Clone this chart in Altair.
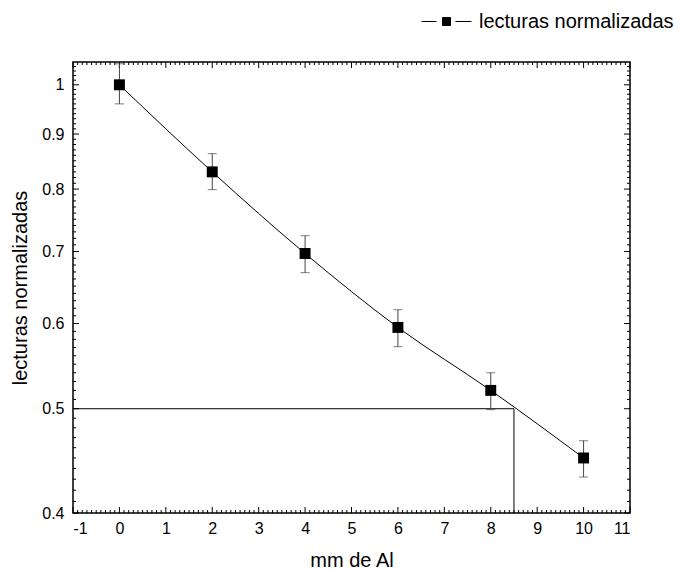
import altair as alt
import numpy as np
import pandas as pd

# ---- data ----
mm = [0, 2, 4, 6, 8, 10]
lectura = [1.0, 0.830, 0.697, 0.595, 0.520, 0.450]
err_hi = [1.046, 0.863, 0.724, 0.618, 0.540, 0.467]
err_lo = [0.960, 0.799, 0.669, 0.571, 0.499, 0.432]
serie = "lecturas normalizadas"

# half-value construction lines
half_y = [0.5]
half_x = [8.5]
x_start = [-1]
y_floor = [0.4]

# axis tick values
x_major = list(range(-1, 12))
y_major = [0.4, 0.5, 0.6, 0.7, 0.8, 0.9, 1.0]
x_minor = [round(v, 1) for v in np.arange(-1, 11.0001, 0.1) if abs(v - round(v)) > 1e-6]
y_minor = [round(v, 2) for v in np.arange(0.41, 1.0401, 0.01) if abs(v * 10 - round(v * 10)) > 1e-6]

W, H = 557, 451
FONT = "Liberation Sans"

df = pd.DataFrame({"mm": mm, "lectura": lectura, "lo": err_lo, "hi": err_hi, "serie": serie})
hline = pd.DataFrame({"x": x_start, "x2": half_x, "y": half_y})
vline = pd.DataFrame({"x": half_x, "y": half_y, "y2": y_floor})

xs = alt.Scale(domain=[-1, 11], nice=False, zero=False)
ys = alt.Scale(type="log", domain=[0.4, 1.05], nice=False)

x_axis = alt.Axis(values=x_major, labelExpr="'' + datum.value", title="mm de Al",
                  labelPadding=7, titlePadding=14, grid=False)
y_axis = alt.Axis(values=y_major, format="~g", title="lecturas normalizadas",
                  labelPadding=9, titlePadding=11, grid=False)


def X(field):
    return alt.X(field, scale=xs, axis=x_axis)


def Y(field):
    return alt.Y(field, scale=ys, axis=y_axis)


sym_path = "M-1,0H-0.4M0.36,0H1M-0.16,-0.16H0.16V0.16H-0.16Z"
leg = alt.Legend(
    title=None, orient="none", legendX=348, legendY=-66, padding=0,
    symbolType=sym_path, symbolSize=2500, symbolStrokeWidth=1,
    symbolFillColor="black", symbolStrokeColor="black",
    labelFont=FONT, labelFontSize=20, labelColor="black", labelOffset=7, labelLimit=400,
)
col_scale = alt.Scale(domain=[serie], range=["black"])

line = alt.Chart(df).mark_line(strokeWidth=1, interpolate="monotone").encode(
    x=X("mm:Q"), y=Y("lectura:Q"),
    stroke=alt.Stroke("serie:N", scale=col_scale, legend=leg),
)

bars = alt.Chart(df).mark_rule(color="#444", strokeWidth=1).encode(
    x=X("mm:Q"), y=Y("lo:Q"), y2="hi:Q",
)
cap_hi = alt.Chart(df).mark_tick(color="#444", orient="horizontal", size=9, thickness=1).encode(
    x=X("mm:Q"), y=Y("hi:Q"),
)
cap_lo = alt.Chart(df).mark_tick(color="#444", orient="horizontal", size=9, thickness=1).encode(
    x=X("mm:Q"), y=Y("lo:Q"),
)

pts = alt.Chart(df).mark_square(size=120, opacity=1).encode(
    x=X("mm:Q"), y=Y("lectura:Q"),
    fill=alt.Fill("serie:N", scale=col_scale, legend=leg),
)

h_rule = alt.Chart(hline).mark_rule(color="black", strokeWidth=1).encode(
    x=X("x:Q"), x2="x2:Q", y=Y("y:Q"),
)
v_rule = alt.Chart(vline).mark_rule(color="black", strokeWidth=1).encode(
    x=X("x:Q"), y=Y("y:Q"), y2="y2:Q",
)


def xticks(vals, length):
    d = pd.DataFrame({"t": vals})
    bottom = alt.Chart(d).mark_rule(color="black", strokeWidth=1).encode(
        x=X("t:Q"), y=alt.value(H), y2=alt.value(H - length))
    top = alt.Chart(d).mark_rule(color="black", strokeWidth=1).encode(
        x=X("t:Q"), y=alt.value(0), y2=alt.value(length))
    return [bottom, top]


def yticks(vals, length):
    d = pd.DataFrame({"t": vals})
    left = alt.Chart(d).mark_rule(color="black", strokeWidth=1).encode(
        y=Y("t:Q"), x=alt.value(0), x2=alt.value(length))
    right = alt.Chart(d).mark_rule(color="black", strokeWidth=1).encode(
        y=Y("t:Q"), x=alt.value(W), x2=alt.value(W - length))
    return [left, right]


tick_layers = xticks(x_major, 6) + xticks(x_minor, 3) + yticks(y_major, 6) + yticks(y_minor, 3)

chart = alt.layer(
    line, *tick_layers, h_rule, v_rule, bars, cap_hi, cap_lo, pts
).properties(
    width=W, height=H,
    background="white",
    autosize=alt.AutoSizeParams(type="none"),
    padding={"left": 73, "top": 62, "right": 59, "bottom": 58},
).configure_view(
    stroke="black", strokeWidth=1.5
).configure_axis(
    grid=False, domain=False, ticks=False,
    labelFont=FONT, labelFontSize=16, labelColor="black",
    titleFont=FONT, titleFontSize=20, titleColor="black", titleFontWeight="normal",
)

chart.save("out.html", embed_options={"renderer": "svg", "actions": False})
